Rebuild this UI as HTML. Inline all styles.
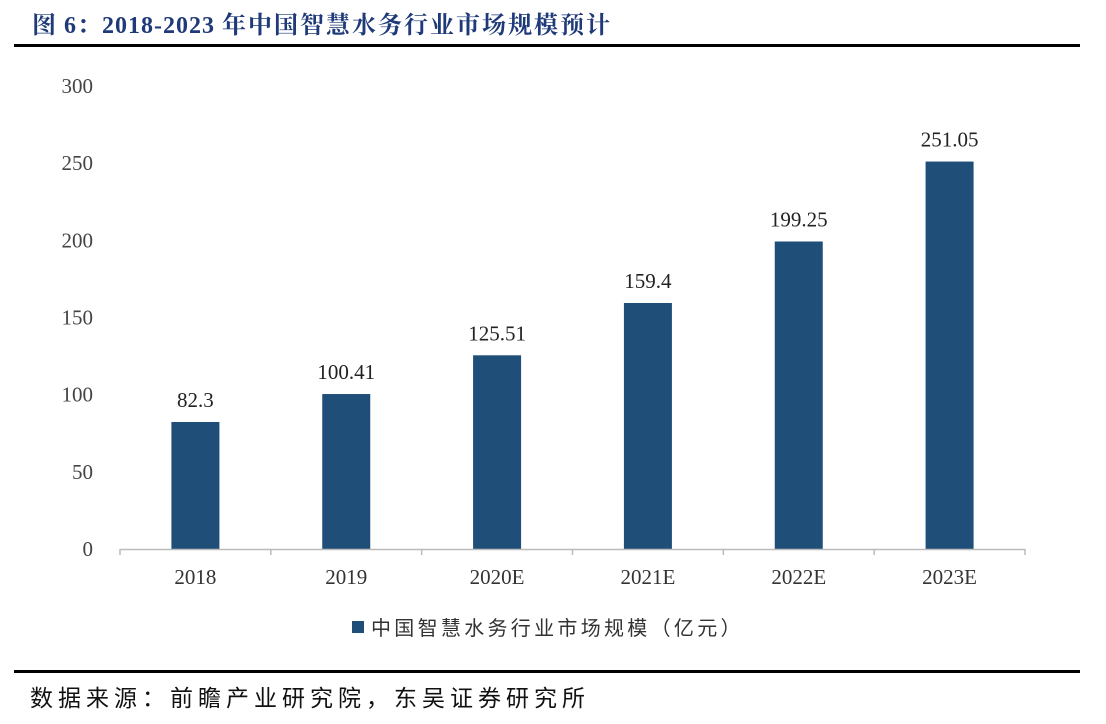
<!DOCTYPE html>
<html><head><meta charset="utf-8"><style>
body{margin:0;width:1106px;height:724px;background:#fff;overflow:hidden;position:relative;font-family:"Liberation Serif","Noto Serif CJK SC",serif}
.title{position:absolute;left:32px;top:5px;font-size:24px;font-weight:bold;color:#1f3a78;font-family:"Liberation Serif","Noto Serif CJK SC",serif;white-space:nowrap;letter-spacing:1px}
.title .cjk{letter-spacing:2px}
.rule{position:absolute;left:14px;width:1066px;height:3px;background:#000}
.src{position:absolute;left:30px;top:679px;font-size:23px;color:#111;font-family:"Liberation Sans","Noto Sans CJK SC",sans-serif;white-space:nowrap;letter-spacing:5px}
</style></head><body>
<div class="title">图 6：2018-2023 <span class="cjk">年中国智慧水务行业市场规模预计</span></div>
<div class="rule" style="top:44px"></div>
<svg id="chart" width="1106" height="724" style="position:absolute;left:0;top:0"></svg>
<div class="rule" style="top:670px"></div>
<div class="src">数据来源：前瞻产业研究院，东吴证券研究所</div>
<script>
const categories=["2018","2019","2020E","2021E","2022E","2023E"];
const values=[82.3,100.41,125.51,159.4,199.25,251.05];
const valueLabels=["82.3","100.41","125.51","159.4","199.25","251.05"];
const yTicks=[0,50,100,150,200,250,300];
const NS="http://www.w3.org/2000/svg";
const svg=document.getElementById('chart');
const x0=120,x1=1025,y0=549,yTop=86,ymax=300;
const step=(x1-x0)/categories.length;
const y=v=>y0-(v/ymax)*(y0-yTop);
const xc=i=>x0+step*(i+0.5);
function mk(t,a){const e=document.createElementNS(NS,t);for(const k in a)e.setAttribute(k,a[k]);svg.appendChild(e);return e;}
yTicks.forEach(t=>{const e=mk('text',{x:93,y:y(t)+7,'text-anchor':'end','font-size':21,fill:'#444','font-family':'Liberation Serif, serif'});e.textContent=t;

});
values.forEach((v,i)=>{const b=mk('rect',{x:xc(i)-24,y:y(v),width:48,height:y0-y(v),fill:'#1f4e79'});


const l=mk('text',{x:xc(i),y:y(v)-15,'text-anchor':'middle','font-size':21,fill:'#222','font-family':'Liberation Serif, serif'});l.textContent=valueLabels[i];


const c=mk('text',{x:xc(i),y:584,'text-anchor':'middle','font-size':21,fill:'#333','font-family':'Liberation Serif, serif'});c.textContent=categories[i];

});
const ax=mk('line',{x1:x0,y1:y0+0.5,x2:x1,y2:y0+0.5,stroke:'#bbb','stroke-width':1.5});


for(let i=0;i<=categories.length;i++){const t=mk('line',{x1:x0+step*i,y1:y0,x2:x0+step*i,y2:y0+6,stroke:'#bbb','stroke-width':1.5});

}
const ls=mk('rect',{x:352,y:621,width:12,height:12,fill:'#1f4e79'});


const lt=mk('text',{x:371,y:635,'font-size':20,fill:'#333','font-family':'Liberation Sans, Noto Sans CJK SC, sans-serif','letter-spacing':'3.3'});lt.textContent='中国智慧水务行业市场规模（亿元）';


</script>
</body></html>
